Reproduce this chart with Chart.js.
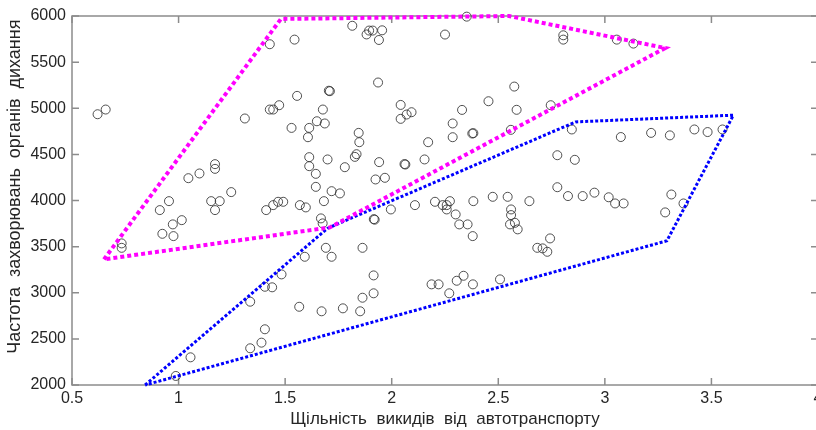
<!DOCTYPE html>
<html>
<head>
<meta charset="utf-8">
<script src="https://cdn.jsdelivr.net/npm/chart.js@4/dist/chart.umd.min.js"></script>
<style>
  html, body { margin: 0; padding: 0; background: #ffffff; overflow: hidden; }
  #wrap { width: 818px; height: 430px; }
</style>
</head>
<body>
<div id="wrap"><canvas id="c" width="818" height="430"></canvas></div>
<script>
// ---- data ----
const pointX = [
  0.62, 0.658, 1.311, 1.171, 1.171, 1.098, 1.046, 1.247, 0.955, 0.912,
  1.015, 0.973, 0.924, 0.976, 0.733, 0.733, 1.153, 1.193, 1.171, 1.336,
  1.336, 1.056, 0.987, 1.428, 1.544, 1.815, 1.882, 1.894, 1.911, 1.955,
  1.940, 1.936, 1.705, 1.710, 1.556, 1.428, 1.444, 1.472, 1.677, 1.649,
  1.686, 1.613, 1.607, 1.530, 1.845, 1.848, 2.042, 2.042, 2.070, 2.093,
  2.171, 1.613, 1.613, 1.699, 1.644, 1.827, 1.835, 1.780, 1.941, 2.060,
  2.064, 2.154, 1.924, 1.968, 1.644, 1.718, 1.757, 1.411, 1.444, 1.467,
  1.491, 1.569, 1.597, 1.682, 1.668, 1.676, 1.916, 1.920, 1.996, 2.109,
  2.203, 2.239, 1.691, 1.718, 1.863, 1.592, 1.483, 1.439, 1.405, 1.915,
  1.915, 1.863, 1.566, 1.671, 1.771, 1.852, 1.405, 1.389, 2.187, 2.220,
  2.352, 2.250, 2.805, 2.805, 3.056, 3.134, 2.575, 2.454, 2.330, 2.586,
  2.746, 2.286, 2.286, 2.378, 2.383, 2.559, 2.845, 3.075, 2.777, 2.859,
  2.777, 3.217, 3.305, 3.420, 3.482, 3.552, 2.474, 2.544, 2.383, 2.273,
  2.258, 2.258, 2.646, 2.300, 2.317, 2.356, 2.380, 2.560, 2.560, 2.555,
  2.578, 2.591, 2.683, 2.708, 2.730, 2.743, 2.827, 2.896, 2.951, 3.018,
  3.048, 3.088, 3.312, 3.283, 3.369, 2.270, 2.305, 2.337, 2.381, 2.508
];
const pointY = [
  4935, 4986, 4889, 4394, 4343, 4293, 4242, 4091, 3993, 3896,
  3787, 3741, 3639, 3614, 3535, 3487, 3993, 3993, 3896, 2903,
  2398, 2300, 2098, 5694, 5744, 5894, 5800, 5842, 5842, 5845,
  5740, 5279, 5190, 5185, 5134, 4986, 4986, 5033, 4986, 4859,
  4835, 4787, 4686, 4787, 4733, 4632, 5036, 4885, 4932, 4957,
  4632, 4470, 4372, 4445, 4289, 4473, 4502, 4361, 4416, 4395,
  4390, 4445, 4228, 4246, 4148, 4101, 4077, 3896, 3950, 3986,
  3986, 3950, 3925, 3993, 3806, 3752, 3798, 3792, 3903, 3950,
  3986, 3950, 3487, 3390, 3487, 3390, 3199, 3059, 3065, 3188,
  2994, 2946, 2848, 2799, 2831, 2799, 2604, 2459, 3091, 3091,
  5993, 5799, 5791, 5744, 5744, 5701, 5235, 5076, 4982, 4983,
  5033, 4835, 4686, 4726, 4730, 4766, 4770, 4688, 4491, 4441,
  4144, 4733, 4706, 4770, 4742, 4770, 4040, 4040, 3993, 3993,
  3950, 3903, 3993, 3849, 3741, 3741, 3614, 3903, 3842, 3741,
  3758, 3687, 3487, 3481, 3444, 3589, 4048, 4048, 4085, 4035,
  3968, 3968, 4065, 3871, 3968, 2994, 3130, 3184, 3091, 3145
];
// outline polygons (vertices, closed)
const magentaX = [0.65, 1.48, 2.55, 3.283, 1.71, 0.65];
const magentaY = [3362, 5968, 6000, 5653, 3708, 3362];
const blueX = [0.843, 1.70, 2.863, 3.603, 3.291, 0.843];
const blueY = [2000, 3700, 4852, 4925, 3563, 2000];
// axes
const xTickValues = [0.5, 1, 1.5, 2, 2.5, 3, 3.5, 4];
const yTickValues = [2000, 2500, 3000, 3500, 4000, 4500, 5000, 5500, 6000];
const xTitle = 'Щільність  викидів  від  автотранспорту';
const yTitle = 'Частота  захворювань  органів  дихання';

const toPts = (xs, ys) => xs.map((x, i) => ({ x: x, y: ys[i] }));

const AXIS_COLOR = '#8c8c8c';
const TEXT_COLOR = '#262626';
const FONT = 'Liberation Sans, Arial, sans-serif';

const frameTicks = {
  id: 'frameTicks',
  beforeDatasetsDraw(chart) {
    const { ctx, chartArea: a, scales } = chart;
    ctx.save();
    ctx.strokeStyle = AXIS_COLOR;
    ctx.lineWidth = 1.5;
    ctx.strokeRect(a.left, a.top, a.right - a.left, a.bottom - a.top);
    const L = 7;
    ctx.beginPath();
    scales.x.ticks.forEach(t => {
      const px = scales.x.getPixelForValue(t.value);
      ctx.moveTo(px, a.bottom); ctx.lineTo(px, a.bottom - L);
      ctx.moveTo(px, a.top); ctx.lineTo(px, a.top + L);
    });
    scales.y.ticks.forEach(t => {
      const py = scales.y.getPixelForValue(t.value);
      ctx.moveTo(a.left, py); ctx.lineTo(a.left + L, py);
      ctx.moveTo(a.right, py); ctx.lineTo(a.right - L, py);
    });
    ctx.stroke();
    ctx.restore();
  },
  afterDraw(chart) {
    // y-axis title (placed as in the reference, slightly above the centre)
    const { ctx, scales } = chart;
    ctx.save();
    ctx.fillStyle = TEXT_COLOR;
    ctx.font = '18px ' + FONT;
    ctx.textAlign = 'center';
    ctx.textBaseline = 'middle';
    ctx.translate(15, scales.y.getPixelForValue(4150));
    ctx.rotate(-Math.PI / 2);
    ctx.fillText(yTitle, 0, 0);
    ctx.restore();
  }
};

new Chart(document.getElementById('c'), {
  type: 'scatter',
  data: {
    datasets: [
      {
        label: 'magenta',
        data: toPts(magentaX, magentaY),
        showLine: true,
        borderColor: '#ff00ff',
        borderWidth: 4,
        borderDash: [4, 3],
        pointRadius: 0,
        fill: false,
        tension: 0,
        order: 0,
        clip: 4
      },
      {
        label: 'blue',
        data: toPts(blueX, blueY),
        showLine: true,
        borderColor: '#0000ff',
        borderWidth: 3,
        borderDash: [3, 2],
        pointRadius: 0,
        fill: false,
        tension: 0,
        order: 0,
        clip: 4
      },
      {
        label: 'points',
        data: toPts(pointX, pointY),
        showLine: false,
        pointStyle: 'circle',
        pointRadius: 4.5,
        pointBorderWidth: 1,
        pointBorderColor: 'rgba(50,50,50,0.85)',
        pointBackgroundColor: 'rgba(0,0,0,0)',
        order: 1,
        clip: 6
      }
    ]
  },
  options: {
    responsive: false,
    animation: false,
    devicePixelRatio: 1,
    layout: { autoPadding: false, padding: { left: 0, right: 0, top: 16, bottom: 0 } },
    plugins: { legend: { display: false }, tooltip: { enabled: false } },
    scales: {
      x: {
        type: 'linear',
        min: 0.5, max: 4,
        afterBuildTicks: s => { s.ticks = xTickValues.map(v => ({ value: v })); },
        afterFit: s => { s.height = 45; s.paddingLeft = 0; s.paddingRight = 0; },
        grid: { display: false, drawTicks: false },
        border: { display: false },
        ticks: {
          padding: 4,
          color: TEXT_COLOR,
          font: { family: FONT, size: 16 },
          maxRotation: 0,
          callback: v => String(v)
        },
        title: {
          display: true, text: xTitle, color: TEXT_COLOR,
          font: { family: FONT, size: 17 }, padding: { top: 0, bottom: 0 }
        }
      },
      y: {
        type: 'linear',
        min: 2000, max: 6000,
        afterBuildTicks: s => { s.ticks = yTickValues.map(v => ({ value: v })); },
        afterFit: s => { s.width = 72; s.paddingTop = 0; s.paddingBottom = 0; },
        grid: { display: false, drawTicks: false },
        border: { display: false },
        ticks: {
          padding: 6,
          color: TEXT_COLOR,
          font: { family: FONT, size: 16 },
          callback: v => String(v)
        },
        title: { display: false }
      }
    }
  },
  plugins: [frameTicks]
});
</script>
</body>
</html>
